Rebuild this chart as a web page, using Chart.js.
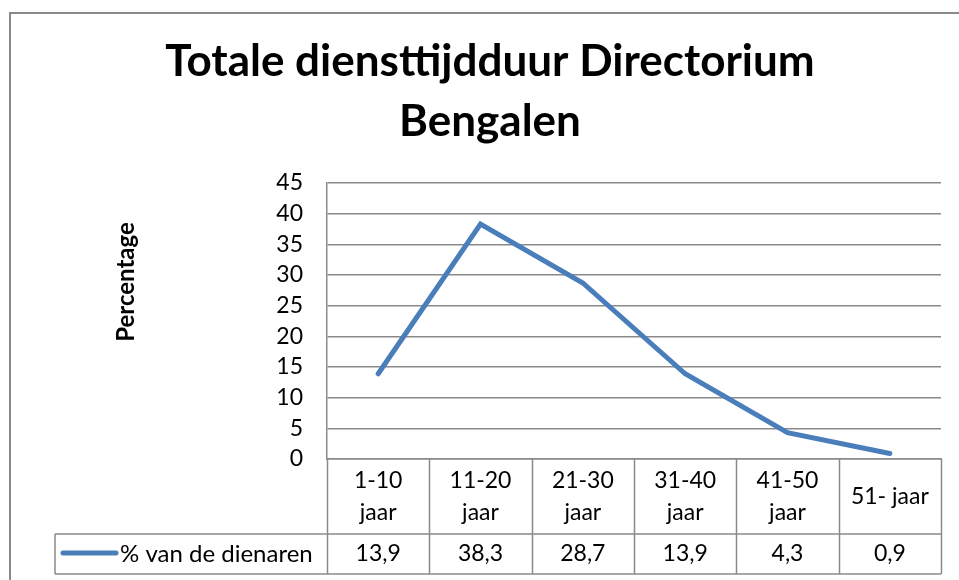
<!DOCTYPE html>
<html>
<head>
<meta charset="utf-8">
<script src="https://cdn.jsdelivr.net/npm/chart.js@4/dist/chart.umd.min.js"></script>
<style>
  body { margin: 0; background: #fff; }
  #wrap { width: 959px; height: 580px; position: relative; }
</style>
</head>
<body>
<div id="wrap"><canvas id="dienst-chart" width="959" height="580"></canvas></div>
<script>
const titleLines = ['Totale diensttijdduur Directorium', 'Bengalen'];
const categories = [['1-10', 'jaar'], ['11-20', 'jaar'], ['21-30', 'jaar'], ['31-40', 'jaar'], ['41-50', 'jaar'], ['51- jaar']];
const seriesName = '% van de dienaren';
const seriesValues = [13.9, 38.3, 28.7, 13.9, 4.3, 0.9];
const yTicks = [0, 5, 10, 15, 20, 25, 30, 35, 40, 45];
const yTitle = 'Percentage';

const FONT = 'Lato, "Open Sans", sans-serif';
const GRID = '#8a8a8a';
const BLUE = '#4a7ebb';

const ctx = document.getElementById('dienst-chart').getContext('2d');

// frame, y-axis title and the data table under the plot
const tablePlugin = {
	id: 'dataTable',
	beforeDraw(chart) {
		const c = chart.ctx;
		c.save();
		c.strokeStyle = GRID;
		c.lineWidth = 2;
		c.beginPath();
		c.moveTo(10, 600);
		c.lineTo(10, 13);
		c.lineTo(1000, 13);
		c.stroke();
		c.restore();
	},
	afterDraw(chart) {
		const c = chart.ctx;
		const x = chart.scales.x;
		const area = chart.chartArea;
		const rowSplit = 534;
		const tableBottom = 574;
		const legendLeft = 55;
		const step = (area.right - area.left) / categories.length;

		c.save();
		c.strokeStyle = GRID;
		c.lineWidth = 1.5;
		c.beginPath();
		for (let i = 0; i <= categories.length; i++) {
			const px = Math.round(area.left + i * step) + 0.5;
			c.moveTo(px, area.bottom);
			c.lineTo(px, tableBottom);
		}
		c.moveTo(legendLeft, rowSplit);
		c.lineTo(area.right, rowSplit);
		c.moveTo(legendLeft, tableBottom);
		c.lineTo(area.right, tableBottom);
		c.moveTo(legendLeft, rowSplit);
		c.lineTo(legendLeft, tableBottom);
		c.stroke();

		c.fillStyle = '#000';
		c.font = '23px ' + FONT;
		c.textAlign = 'center';
		c.textBaseline = 'middle';
		categories.forEach((lines, i) => {
			const cx = x.getPixelForValue(i);
			const mid = 497;
			lines.forEach((t, j) => {
				c.fillText(t, cx, mid + (j - (lines.length - 1) / 2) * 32);
			});
			c.fillText(String(seriesValues[i]).replace('.', ','), cx, (rowSplit + tableBottom) / 2);
		});

		c.textAlign = 'left';
		c.font = '24px ' + FONT;
		c.fillText(seriesName, 120, (rowSplit + tableBottom) / 2);
		c.strokeStyle = BLUE;
		c.lineWidth = 5;
		c.lineCap = 'round';
		c.beginPath();
		c.moveTo(63, 553);
		c.lineTo(116, 553);
		c.stroke();

		c.translate(126, 282);
		c.rotate(-Math.PI / 2);
		c.textAlign = 'center';
		c.font = 'bold 24px ' + FONT;
		c.fillText(yTitle, 0, 0);
		c.restore();
	}
};

new Chart(ctx, {
	type: 'line',
	data: {
		labels: categories,
		datasets: [{
			label: seriesName,
			data: seriesValues,
			borderColor: BLUE,
			borderWidth: 5,
			borderCapStyle: 'round',
			borderJoinStyle: 'miter',
			pointRadius: 0,
			tension: 0,
		}],
	},
	options: {
		responsive: false,
		animation: false,
		layout: {
			padding: { left: 39, right: 18, top: 0, bottom: 0 },
		},
		plugins: {
			legend: { display: false },
			tooltip: { enabled: false },
			title: {
				display: true,
				text: titleLines,
				color: '#000',
				font: { family: FONT, size: 44, weight: 'bold', lineHeight: 1.364 },
				padding: { top: 32, bottom: 31 },
			},
		},
		scales: {
			x: {
				offset: true,
				grid: { display: false },
				border: { display: true, color: GRID, width: 1.5 },
				ticks: { display: false },
				afterFit(scale) { scale.height = 121; },
			},
			y: {
				min: 0,
				max: 45,
				afterBuildTicks(scale) { scale.ticks = yTicks.map(v => ({ value: v })); },
				grid: { color: GRID, lineWidth: 1.5, drawTicks: false },
				border: { display: true, color: GRID, width: 1.5 },
				ticks: {
					color: '#000',
					padding: 24,
					font: { family: FONT, size: 23 },
				},
				afterFit(scale) { scale.width = 288; },
			},
		},
	},
	plugins: [tablePlugin],
});
</script>
</body>
</html>
